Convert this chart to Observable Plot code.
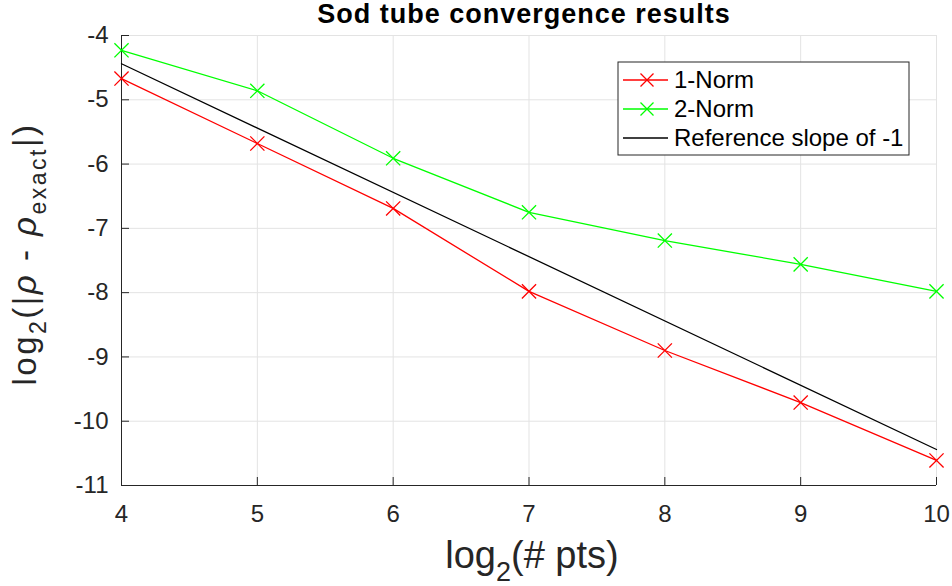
<!DOCTYPE html>
<html><head><meta charset="utf-8">
<script src="https://cdn.jsdelivr.net/npm/d3@7"></script>
<script src="https://cdn.jsdelivr.net/npm/@observablehq/plot@0.6"></script>
<style>body{margin:0;background:#fff} svg{font-family:"Liberation Sans",Arial,sans-serif}</style>
</head><body><div id="chart"></div>
<script>
const logPts = [4, 5, 6, 7, 8, 9, 10];
const norm1 = [-4.67, -5.68, -6.69, -7.98, -8.90, -9.71, -10.61];
const norm2 = [-4.23, -4.86, -5.91, -6.75, -7.19, -7.56, -7.98];
const refX = [4, 10];
const refY = [-4.44, -10.44];
const xTicks = [4, 5, 6, 7, 8, 9, 10];
const yTicks = [-11, -10, -9, -8, -7, -6, -5, -4];
const seriesNames = ["1-Norm", "2-Norm", "Reference slope of -1"];
const seriesColors = ["#ff0000", "#00ff00", "#000000"];

const d1 = logPts.map((x, i) => ({x, y: norm1[i]}));
const d2 = logPts.map((x, i) => ({x, y: norm2[i]}));
const dr = refX.map((x, i) => ({x, y: refY[i]}));
const axisColor = "#262626";

const chart = Plot.plot({
  width: 952, height: 586,
  marginLeft: 121, marginRight: 16, marginTop: 35, marginBottom: 101,
  style: {fontFamily: '"Liberation Sans", Arial, sans-serif', background: "#fff"},
  x: {domain: [4, 10], ticks: xTicks},
  y: {domain: [-11, -4], ticks: yTicks},
  marks: [
    Plot.gridX(xTicks, {stroke: "#e3e3e3", strokeOpacity: 1, strokeWidth: 1}),
    Plot.gridY(yTicks, {stroke: "#e3e3e3", strokeOpacity: 1, strokeWidth: 1}),
    Plot.ruleX([4], {stroke: axisColor}),
    Plot.ruleY([-11], {stroke: axisColor}),
    Plot.axisX(xTicks, {tickSize: -8, tickPadding: 27, fontSize: 24, color: axisColor, stroke: axisColor, tickFormat: d => String(d), label: null}),
    Plot.axisY(yTicks, {tickSize: -8, tickPadding: 21, fontSize: 24, color: axisColor, stroke: axisColor, tickFormat: d => String(d), label: null}),
    Plot.line(dr, {x: "x", y: "y", stroke: seriesColors[2], strokeWidth: 1.3}),
    Plot.line(d1, {x: "x", y: "y", stroke: seriesColors[0], strokeWidth: 1.3}),
    Plot.dot(d1, {x: "x", y: "y", symbol: "times", r: 6.5, stroke: seriesColors[0], strokeWidth: 1.3}),
    Plot.line(d2, {x: "x", y: "y", stroke: seriesColors[1], strokeWidth: 1.3}),
    Plot.dot(d2, {x: "x", y: "y", symbol: "times", r: 6.5, stroke: seriesColors[1], strokeWidth: 1.3})
  ]
});
document.getElementById("chart").appendChild(chart);

const svg = d3.select(chart);
const ff = '"Liberation Sans", Arial, sans-serif';
// Title
svg.append("text").attr("x", 524).attr("y", 23).attr("text-anchor", "middle")
  .attr("font-size", 27).attr("font-weight", "bold").attr("letter-spacing", 1).attr("fill", "#000").attr("font-family", ff)
  .text("Sod tube convergence results");
// X label
const xl = svg.append("text").attr("x", 532).attr("y", 568).attr("text-anchor", "middle")
  .attr("font-size", 38).attr("fill", axisColor).attr("font-family", ff);
xl.append("tspan").text("log");
xl.append("tspan").attr("font-size", 27).attr("dy", 13).text("2");
xl.append("tspan").attr("dy", -13).text("(# pts)");
// Y label
const yl = svg.append("text").attr("transform", "translate(36,254) rotate(-90)").attr("text-anchor", "middle")
  .attr("font-size", 33).attr("letter-spacing", 2.5).attr("fill", axisColor).attr("font-family", ff);
yl.append("tspan").text("log");
yl.append("tspan").attr("font-size", 23).attr("dy", 10).text("2");
yl.append("tspan").attr("dy", -10).text("(|");
yl.append("tspan").attr("font-style", "italic").text("ρ");
yl.append("tspan").text(" - ");
yl.append("tspan").attr("font-style", "italic").text("ρ");
yl.append("tspan").attr("font-size", 23).attr("dy", 10).text("exact");
yl.append("tspan").attr("dy", -10).text("|)");
// Legend
const lg = svg.append("g");
lg.append("rect").attr("x", 618).attr("y", 62).attr("width", 291).attr("height", 93)
  .attr("fill", "#fff").attr("stroke", axisColor).attr("stroke-width", 1);
seriesNames.forEach((name, i) => {
  const cy = 80 + i * 29;
  lg.append("line").attr("x1", 623).attr("x2", 668).attr("y1", cy).attr("y2", cy)
    .attr("stroke", seriesColors[i]).attr("stroke-width", 1.3);
  if (i < 2) {
    const s = 6.5;
    lg.append("path").attr("d", `M${647-s},${cy-s}L${647+s},${cy+s}M${647-s},${cy+s}L${647+s},${cy-s}`)
      .attr("stroke", seriesColors[i]).attr("stroke-width", 1.3).attr("fill", "none");
  }
  lg.append("text").attr("x", 674).attr("y", cy + 8).attr("text-anchor", "start").attr("font-size", 24).attr("fill", "#000")
    .attr("font-family", ff).text(name);
});
</script></body></html>
